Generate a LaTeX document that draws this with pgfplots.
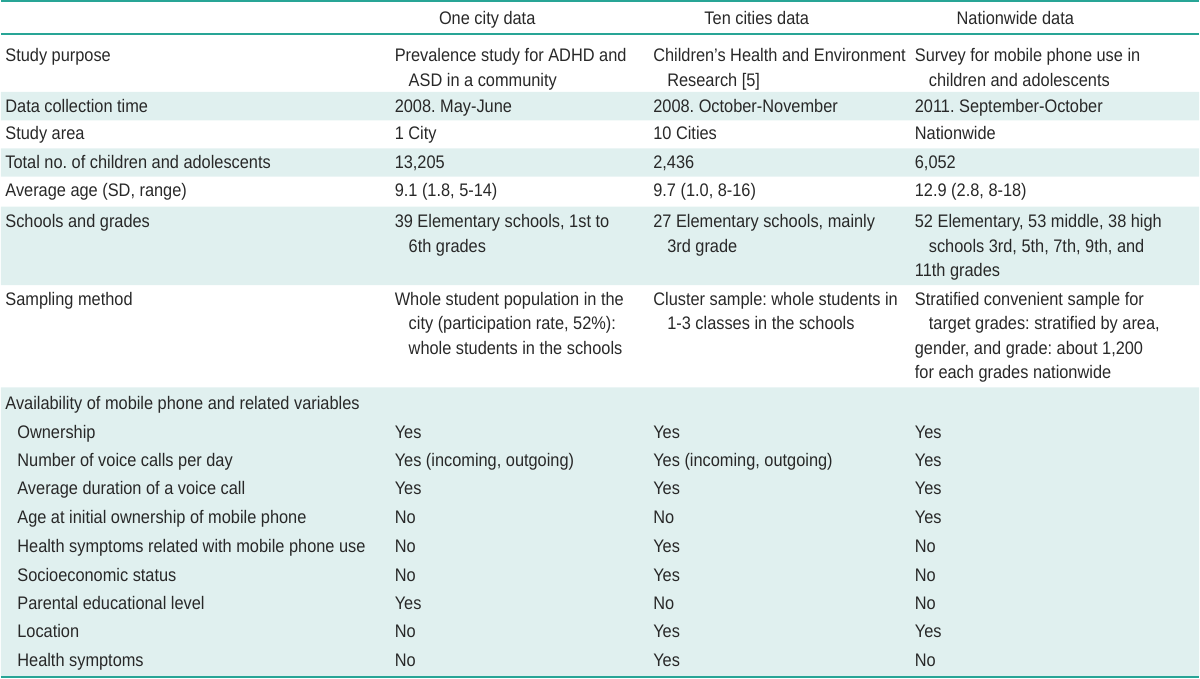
\documentclass[border=0pt]{standalone}
\usepackage{fontspec}
\setmainfont[FakeStretch=0.9]{Liberation Sans}
\usepackage{pgfplots}
\pgfplotsset{compat=1.18}
\definecolor{rule}{RGB}{40,165,150}
\definecolor{shade}{RGB}{224,240,239}
\definecolor{txt}{RGB}{40,40,40}
\newcommand{\T}[3]{\node[anchor=base west,inner sep=0pt,text=txt] at (axis cs:#1,#2) {#3};}
\newcommand{\C}[3]{\node[anchor=base,inner sep=0pt,text=txt] at (axis cs:#1,#2) {#3};}
\frenchspacing
\begin{document}
\begin{tikzpicture}[font=\fontsize{9.1}{10}\selectfont\frenchspacing]
\begin{axis}[
  width=600pt, height=340pt, scale only axis,
  xmin=0, xmax=1200, ymin=0, ymax=680, y dir=reverse,
  hide axis, clip=false]
\path (axis cs:0,0) rectangle (axis cs:1200,680);
% shaded bands
\addplot[fill=shade, draw=none] coordinates {(0,92) (1200,92) (1200,120.5) (0,120.5) (0,92)};
\addplot[fill=shade, draw=none] coordinates {(0,148.5) (1200,148.5) (1200,177) (0,177) (0,148.5)};
\addplot[fill=shade, draw=none] coordinates {(0,207) (1200,207) (1200,285.5) (0,285.5) (0,207)};
\addplot[fill=shade, draw=none] coordinates {(0,388) (1200,388) (1200,678) (0,678) (0,388)};
% rules
\addplot[rule, line width=1pt] coordinates {(0,1) (1200,1)};
\addplot[rule, line width=1pt] coordinates {(0,34.5) (1200,34.5)};
\addplot[rule, line width=1pt] coordinates {(0,678.5) (1200,678.5)};
% header
\C{487}{25}{One city data}
\C{757}{25}{Ten cities data}
\C{1016}{25}{Nationwide data}
% column 1
\T{4}{62}{Study purpose}
\T{4}{113}{Data collection time}
\T{4}{140}{Study area}
\T{4}{169}{Total no. of children and adolescents}
\T{4}{197}{Average age (SD, range)}
\T{4}{228}{Schools and grades}
\T{4}{306}{Sampling method}
\T{4}{410}{Availability of mobile phone and related variables}
\T{16}{439}{Ownership}
\T{16}{467}{Number of voice calls per day}
\T{16}{495}{Average duration of a voice call}
\T{16}{524}{Age at initial ownership of mobile phone}
\T{16}{553}{Health symptoms related with mobile phone use}
\T{16}{582}{Socioeconomic status}
\T{16}{611}{Parental educational level}
\T{16}{639}{Location}
\T{16}{668}{Health symptoms}
% column 2
\T{394}{62}{Prevalence study for ADHD and}
\T{408}{86.5}{ASD in a community}
\T{394}{113}{2008. May-June}
\T{394}{140}{1 City}
\T{394}{169}{13,205}
\T{394}{197}{9.1 (1.8, 5-14)}
\T{394}{228}{39 Elementary schools, 1st to}
\T{408}{252.5}{6th grades}
\T{394}{306}{Whole student population in the}
\T{408}{330.5}{city (participation rate, 52\%):}
\T{408}{355}{whole students in the schools}
\T{394}{439}{Yes}
\T{394}{467}{Yes (incoming, outgoing)}
\T{394}{495}{Yes}
\T{394}{524}{No}
\T{394}{553}{No}
\T{394}{582}{No}
\T{394}{611}{Yes}
\T{394}{639}{No}
\T{394}{668}{No}
% column 3
\T{653}{62}{Children’s Health and Environment}
\T{667}{86.5}{Research [5]}
\T{653}{113}{2008. October-November}
\T{653}{140}{10 Cities}
\T{653}{169}{2,436}
\T{653}{197}{9.7 (1.0, 8-16)}
\T{653}{228}{27 Elementary schools, mainly}
\T{667}{252.5}{3rd grade}
\T{653}{306}{Cluster sample: whole students in}
\T{667}{330.5}{1-3 classes in the schools}
\T{653}{439}{Yes}
\T{653}{467}{Yes (incoming, outgoing)}
\T{653}{495}{Yes}
\T{653}{524}{No}
\T{653}{553}{Yes}
\T{653}{582}{Yes}
\T{653}{611}{No}
\T{653}{639}{Yes}
\T{653}{668}{Yes}
% column 4
\T{915}{62}{Survey for mobile phone use in}
\T{929}{86.5}{children and adolescents}
\T{915}{113}{2011. September-October}
\T{915}{140}{Nationwide}
\T{915}{169}{6,052}
\T{915}{197}{12.9 (2.8, 8-18)}
\T{915}{228}{52 Elementary, 53 middle, 38 high}
\T{929}{252.5}{schools 3rd, 5th, 7th, 9th, and}
\T{915}{277}{11th grades}
\T{915}{306}{Stratified convenient sample for}
\T{929}{330.5}{target grades: stratified by area,}
\T{915}{355}{gender, and grade: about 1,200}
\T{915}{379.5}{for each grades nationwide}
\T{915}{439}{Yes}
\T{915}{467}{Yes}
\T{915}{495}{Yes}
\T{915}{524}{Yes}
\T{915}{553}{No}
\T{915}{582}{No}
\T{915}{611}{No}
\T{915}{639}{Yes}
\T{915}{668}{No}
\end{axis}
\end{tikzpicture}
\end{document}
